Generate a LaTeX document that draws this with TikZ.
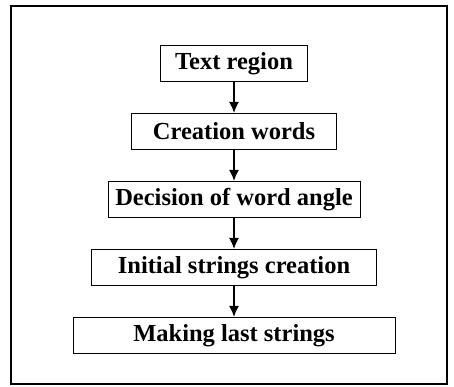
\documentclass[tikz,border=0pt]{standalone}
\usepackage{fontspec}
\setmainfont{Liberation Serif}
\usetikzlibrary{positioning,arrows.meta}

\begin{document}
\begin{tikzpicture}[x=1pt, y=1pt, node distance=31pt,
		box/.style={draw, line width=1pt, minimum height=36pt, inner sep=0pt,
			font=\fontsize{24.5}{30}\selectfont\bfseries}]
					\useasboundingbox (0,0) rectangle (454,387);
					\draw[line width=1.3pt] (11,3) rectangle (447,381);

					\node[box, minimum width=147pt] (region) at (234,323.5) {Text region};
					\node[box, minimum width=205pt] (words)[below = of region] {Creation words};
					\node[box, minimum width=252pt] (angle)[below = of words] {Decision of word angle};
					\node[box, minimum width=285pt] (initial)[below = of angle] {Initial strings creation};
					\node[box, minimum width=322pt] (last)[below = of initial] {Making last strings};

					\path[line width=1.6pt, -{Latex[length=11pt, width=10pt]}]
					(region) edge (words)
					(words) edge (angle)
					(angle) edge (initial)
					(initial) edge (last)
					;
				\end{tikzpicture}
\end{document}
